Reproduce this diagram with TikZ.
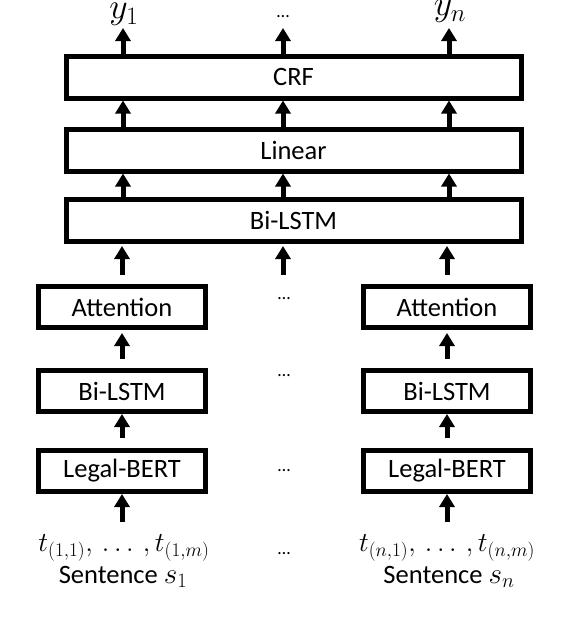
\RequirePackage{fix-cm}
\documentclass[tikz,border=0pt]{standalone}
\usepackage{graphicx}
\usepackage{fontspec}
\setmainfont{Carlito}
\usetikzlibrary{arrows.meta}
\newcommand{\lblfont}{\fontsize{26.5}{30}\selectfont}
\newcommand{\dotfont}{\fontsize{18}{20}\selectfont}
\begin{document}
\begin{tikzpicture}[x=1pt,y=-1pt,
  bigbox/.style={draw, line width=5pt, minimum width=455pt, minimum height=42pt, inner sep=0pt, font=\lblfont},
  smallbox/.style={draw, line width=5pt, minimum width=167pt, minimum height=41pt, inner sep=0pt, font=\lblfont},
  arr/.style={line width=5pt, -{Triangle[width=15pt,length=13pt]}},
  lbl/.style={inner sep=0pt, font=\lblfont},
  outlbl/.style={inner sep=0pt, anchor=south, font=\lblfont},
  dotlbl/.style={inner sep=0pt, anchor=base, font=\dotfont}]
\useasboundingbox (0,0) rectangle (566,624);
% boxes
\node[bigbox] (crf) at (293.5,77) {CRF};
\node[bigbox] (lin) at (293.5,150) {Linear};
\node[bigbox] (bil) at (293.5,220.5) {Bi-LSTM};
\node[smallbox] (att1) at (122,307) {Attention};
\node[smallbox] (att2) at (447,307) {Attention};
\node[smallbox] (bs1) at (122,391) {Bi-LSTM};
\node[smallbox] (bs2) at (447,391) {Bi-LSTM};
\node[smallbox] (lb1) at (122,471) {Legal-BERT};
\node[smallbox] (lb2) at (447,471) {Legal-BERT};
% inputs
\node[lbl] (tok1) at (124,548) {\scalebox{1.04}{$t_{(1,1)},\,\dots\,,t_{(1,m)}$}};
\node[lbl] (tok2) at (447,548) {\scalebox{1.04}{$t_{(n,1)},\,\dots\,,t_{(n,m)}$}};
\node[lbl] (sen1) at (123,577) {Sentence \scalebox{1.1}{$s_1$}};
\node[lbl] (sen2) at (449,577) {Sentence \scalebox{1.1}{$s_n$}};
% outputs
\node[outlbl] (y1) at (124,26) {\scalebox{1.35}{$y_1$}};
\node[outlbl] (yn) at (450,23) {\scalebox{1.35}{$y_n$}};
% dots
\node[dotlbl] (d0) at (283,17.5) {…};
\node[dotlbl] (d1) at (284,299.5) {…};
\node[dotlbl] (d2) at (284,376.5) {…};
\node[dotlbl] (d3) at (284,471.5) {…};
\node[dotlbl] (d4) at (284,554.5) {…};
% arrow tip coordinates
\coordinate (t1) at (123,28);
\coordinate (tm) at (283,28);
\coordinate (tn) at (449,28);
\coordinate (m1) at (283,275);
% top arrows
\draw[arr] (crf.north -| t1) -- (t1);
\draw[arr] (crf.north -| tm) -- (tm);
\draw[arr] (crf.north -| tn) -- (tn);
\draw[arr] (lin.north -| t1) -- (crf.south -| t1);
\draw[arr] (lin.north -| tm) -- (crf.south -| tm);
\draw[arr] (lin.north -| tn) -- (crf.south -| tn);
\draw[arr] (bil.north -| t1) -- (lin.south -| t1);
\draw[arr] (bil.north -| tm) -- (lin.south -| tm);
\draw[arr] (bil.north -| tn) -- (lin.south -| tn);
% attention to bi-lstm
\draw[arr, shorten <=9pt, shorten >=2pt] (att1.north) -- (bil.south -| att1);
\draw[arr, shorten >=2pt] (m1) -- (bil.south -| m1);
\draw[arr, shorten <=9pt, shorten >=2pt] (att2.north) -- (bil.south -| att2);
% lower stacks
\draw[arr, shorten <=9pt, shorten >=3pt] (bs1.north) -- (att1.south);
\draw[arr, shorten <=9pt, shorten >=3pt] (bs2.north) -- (att2.south);
\draw[arr, shorten <=10pt] (lb1.north) -- (bs1.south);
\draw[arr, shorten <=10pt] (lb2.north) -- (bs2.south);
\draw[arr, shorten <=12pt] (tok1.north -| lb1) -- (lb1.south);
\draw[arr, shorten <=12pt] (tok2.north -| lb2) -- (lb2.south);
\end{tikzpicture}
\end{document}
